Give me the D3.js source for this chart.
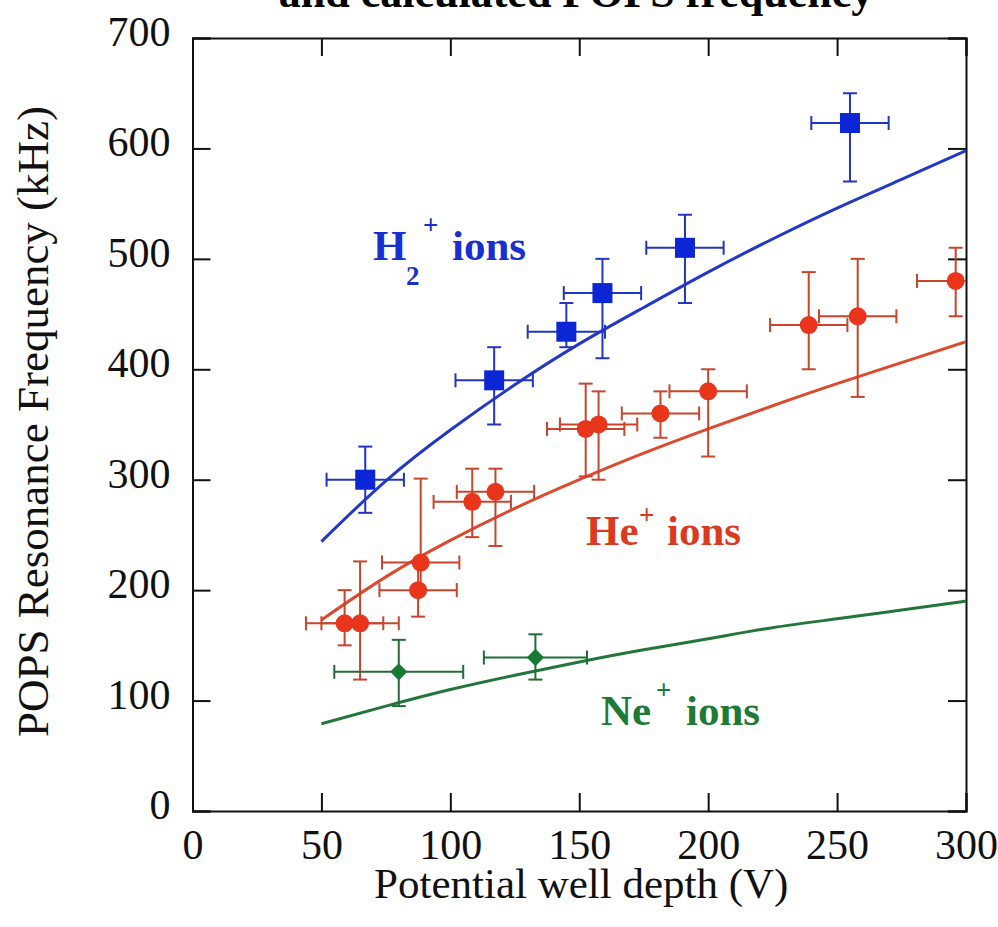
<!DOCTYPE html>
<html>
<head>
<meta charset="utf-8">
<script src="https://cdn.jsdelivr.net/npm/d3@7"></script>
<style>
  body { margin: 0; background: #fff; }
  svg { display: block; font-family: "Liberation Serif", "DejaVu Serif", serif; }
</style>
</head>
<body>
<div id="chart"></div>
<script>
// axis ticks
const xTicks = [0, 50, 100, 150, 200, 250, 300];
const yTicks = [0, 100, 200, 300, 400, 500, 600, 700];

// H2+ measurements
const h2Depth = [67, 117, 145, 159, 191, 255];
const h2Freq = [300, 390, 434, 469, 510, 623];
const h2DepthErr = [15, 15, 15, 15, 15, 15];
const h2FreqLow = [270, 350, 420, 410, 460, 570];
const h2FreqHigh = [330, 420, 460, 500, 540, 650];

// He+ measurements
const heDepth = [59, 65, 87.5, 88.5, 108.5, 117.5, 152.5, 157.5, 181.5, 200, 239, 258, 296];
const heFreq = [170, 170, 200, 225, 280, 289, 346, 350, 360, 380, 440, 448, 480];
const heDepthErr = [15, 15, 15, 15, 15, 15, 15, 15, 15, 15, 15, 15, 15];
const heFreqLow = [150, 119, 176, 200, 248, 240, 303, 300, 338, 321, 400, 375, 448];
const heFreqHigh = [200, 226, 225, 301, 310, 310, 387, 380, 380, 400, 488, 500, 510];

// Ne+ measurements
const neDepth = [80, 133];
const neFreq = [126, 139];
const neDepthErr = [25, 20];
const neFreqLow = [95, 119];
const neFreqHigh = [155, 160];

// calculated curves
const curveDepth = [50, 75, 100, 125, 150, 175, 200, 225, 250, 275, 300];
const h2Curve = [244, 299, 345, 386, 423, 456, 488, 518, 546, 572, 598];
const heCurve = [173, 212, 245, 274, 300, 324, 346, 367, 387, 406, 425];
const neCurve = [79, 95, 110, 123, 135, 146, 156, 166, 174, 182, 190];

const width = 998, height = 927;
const plotLeft = 192.5, plotRight = 966, plotTop = 38, plotBottom = 811;

const x = d3.scaleLinear().domain([0, 300]).range([plotLeft, plotRight]);
const y = d3.scaleLinear().domain([0, 700]).range([plotBottom, plotTop]);

const svg = d3.select("#chart").append("svg")
    .attr("width", width)
    .attr("height", height);

svg.append("defs").append("clipPath").attr("id", "plot-clip")
    .append("rect")
    .attr("x", plotLeft).attr("y", plotTop)
    .attr("width", plotRight - plotLeft).attr("height", plotBottom - plotTop);

// title, cut off at the top of the picture as in the source
svg.append("text")
    .attr("x", 576).attr("y", 7)
    .attr("text-anchor", "middle")
    .style("font-size", "44px").style("font-weight", "bold")
    .text("and calculated POPS frequency");

// axes: ticks point inward on all four sides
const tickLen = 18;
const axisColor = "#111";

const gBottom = svg.append("g")
    .attr("transform", "translate(0," + plotBottom + ")")
    .call(d3.axisBottom(x).tickValues(xTicks).tickSize(-tickLen).tickFormat(d3.format("d")));
gBottom.selectAll("text").attr("y", 48).attr("dy", 0);

const gLeft = svg.append("g")
    .attr("transform", "translate(" + plotLeft + ",0)")
    .call(d3.axisLeft(y).tickValues(yTicks).tickSize(-tickLen).tickFormat(d3.format("d")));
gLeft.selectAll("text").attr("x", -22).attr("dy", "0.18em");

svg.append("g")
    .attr("transform", "translate(0," + plotTop + ")")
    .call(d3.axisTop(x).tickValues(xTicks).tickSize(-tickLen).tickFormat(""));

svg.append("g")
    .attr("transform", "translate(" + plotRight + ",0)")
    .call(d3.axisRight(y).tickValues(yTicks).tickSize(-tickLen).tickFormat(""));

svg.selectAll(".domain").attr("stroke", axisColor).attr("stroke-width", 2);
svg.selectAll(".tick line").attr("stroke", axisColor).attr("stroke-width", 2);
svg.selectAll(".tick text")
    .style("font-size", "42px")
    .style("font-family", "'Liberation Serif', serif")
    .attr("fill", "#111");

// axis titles
svg.append("text")
    .attr("x", (plotLeft + plotRight) / 2 + 2).attr("y", 898)
    .attr("text-anchor", "middle")
    .style("font-size", "43px")
    .attr("fill", "#111")
    .text("Potential well depth (V)");

svg.append("text")
    .attr("transform", "translate(48," + ((plotTop + plotBottom) / 2 - 3) + ") rotate(-90)")
    .attr("text-anchor", "middle")
    .style("font-size", "45px")
    .attr("fill", "#111")
    .text("POPS Resonance Frequency (kHz)");

// calculated curves
const line = d3.line()
    .x((d, i) => x(curveDepth[i]))
    .y(d => y(d))
    .curve(d3.curveNatural);

const plot = svg.append("g").attr("clip-path", "url(#plot-clip)");

function drawCurve(values, color) {
    plot.append("path")
        .datum(values)
        .attr("fill", "none")
        .attr("stroke", color)
        .attr("stroke-width", 3)
        .attr("d", line);
}

drawCurve(h2Curve, "#2438c8");
drawCurve(heCurve, "#dc4a30");
drawCurve(neCurve, "#23763a");

// error bars with caps
function drawErrors(depth, freq, dErr, fLow, fHigh, color) {
    const cap = 7;
    const g = plot.append("g")
        .attr("stroke", color)
        .attr("stroke-width", 2)
        .attr("fill", "none");
    depth.forEach((d, i) => {
        const cx = x(d), cy = y(freq[i]);
        const x0 = x(d - dErr[i]), x1 = x(d + dErr[i]);
        const y0 = y(fLow[i]), y1 = y(fHigh[i]);
        g.append("line").attr("x1", x0).attr("x2", x1).attr("y1", cy).attr("y2", cy);
        g.append("line").attr("x1", x0).attr("x2", x0).attr("y1", cy - cap).attr("y2", cy + cap);
        g.append("line").attr("x1", x1).attr("x2", x1).attr("y1", cy - cap).attr("y2", cy + cap);
        g.append("line").attr("x1", cx).attr("x2", cx).attr("y1", y0).attr("y2", y1);
        g.append("line").attr("x1", cx - cap).attr("x2", cx + cap).attr("y1", y0).attr("y2", y0);
        g.append("line").attr("x1", cx - cap).attr("x2", cx + cap).attr("y1", y1).attr("y2", y1);
    });
}

drawErrors(heDepth, heFreq, heDepthErr, heFreqLow, heFreqHigh, "#c8442c");
drawErrors(neDepth, neFreq, neDepthErr, neFreqLow, neFreqHigh, "#1f6e36");
drawErrors(h2Depth, h2Freq, h2DepthErr, h2FreqLow, h2FreqHigh, "#2235c0");

// markers
svg.append("g").selectAll("rect")
    .data(h2Depth)
    .enter().append("rect")
    .attr("x", (d, i) => x(d) - 10)
    .attr("y", (d, i) => y(h2Freq[i]) - 10)
    .attr("width", 20).attr("height", 20)
    .attr("fill", "#0c26d6");

svg.append("g").selectAll("circle")
    .data(heDepth)
    .enter().append("circle")
    .attr("cx", d => x(d))
    .attr("cy", (d, i) => y(heFreq[i]))
    .attr("r", 9)
    .attr("fill", "#e8351c");

svg.append("g").selectAll("path")
    .data(neDepth)
    .enter().append("path")
    .attr("transform", (d, i) => "translate(" + x(d) + "," + y(neFreq[i]) + ")")
    .attr("d", d3.symbol().type(d3.symbolDiamond2).size(190))
    .attr("fill", "#177a32");

// series labels
function label(parts, color) {
    const g = svg.append("g").attr("fill", color).style("font-weight", "bold");
    parts.forEach(p => {
        g.append("text")
            .attr("x", p[1]).attr("y", p[2])
            .style("font-size", p[3] + "px")
            .text(p[0]);
    });
}

label([["H", 373, 260, 43], ["2", 406, 285, 27], ["+", 423, 234, 27], ["ions", 452, 260, 43]], "#1a2fd0");
label([["He", 586, 545, 43], ["+", 639, 524, 27], ["ions", 667, 545, 43]], "#db3a20");
label([["Ne", 601, 725, 43], ["+", 656, 699, 27], ["ions", 686, 725, 43]], "#1e7a34");
</script>
</body>
</html>
